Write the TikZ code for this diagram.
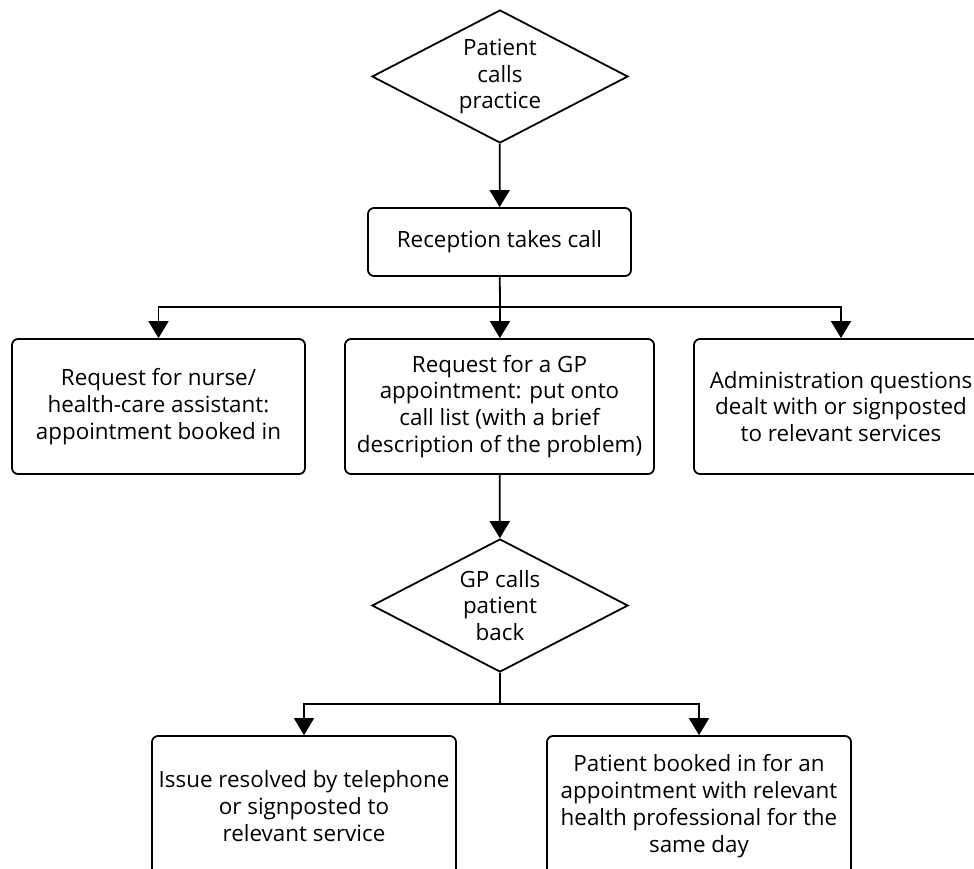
\documentclass[tikz,border=0pt]{standalone}
\usepackage{fontspec}
\setmainfont{Open Sans}
\usepackage{tikz}
\usetikzlibrary{arrows.meta,positioning,shapes.geometric}
\tikzset{
  decis/.style={diamond, draw=black, line width=0.9pt, aspect=2, inner sep=0pt, text centered, align=center,
    minimum width=128pt, minimum height=66.5pt, font={\fontsize{11.2}{13.4}\selectfont}},
  stepbox/.style={rectangle, draw=black, line width=0.9pt, rounded corners=3pt, align=center, inner sep=2pt,
    font={\fontsize{11.2}{13.4}\selectfont}},
  line/.style={draw, line width=0.9pt, -{Triangle[width=10pt,length=8.5pt]}},
}
\begin{document}
\begin{tikzpicture}[x=0.5pt,y=-0.5pt]
    \useasboundingbox (0,0) rectangle (974,868);
    \clip (0,0) rectangle (974,868);

    \node[decis] (call) at (500,76.5) {Patient\\calls\\practice};
    \node[stepbox,minimum width=131.5pt,minimum height=34pt] (recep) at (499.5,242) {Reception takes call};

    \node[stepbox,minimum width=146.5pt,minimum height=67.5pt] (nurse) at (158.5,406.5) {Request for nurse/\\health-care assistant:\\appointment booked in};
    \node[stepbox,minimum width=154.5pt,minimum height=67.5pt] (gp) at (499.5,406.5) {Request for a GP\\appointment: put onto\\call list (with a brief\\description of the problem)};
    \node[stepbox,minimum width=147pt,minimum height=67.5pt] (admin) at (841,406.5) {Administration questions\\dealt with or signposted\\to relevant services};

    \node[decis] (back) at (500,605.5) {GP calls\\patient\\back};

    \node[stepbox,minimum width=152pt,minimum height=70pt] (phone) at (304,806) {Issue resolved by telephone\\or signposted to\\relevant service};
    \node[stepbox,minimum width=152pt,minimum height=70pt] (booked) at (699,806) {Patient booked in for an\\appointment with relevant\\health professional for the\\same day};

    \coordinate (split) at (500,307);
    \coordinate (split2) at (500,704);

    \begin{scope} [every path/.style=line]
      \path (call) -- (recep);
      \path[-] (recep) -- (split);
      \path (split) -| (nurse);
      \path (split) -- (gp);
      \path (split) -| (admin);
      \path (gp) -- (back);
      \path[-] (back) -- (split2);
      \path (split2) -| (phone);
      \path (split2) -| (booked);
    \end{scope}
\end{tikzpicture}
\end{document}
